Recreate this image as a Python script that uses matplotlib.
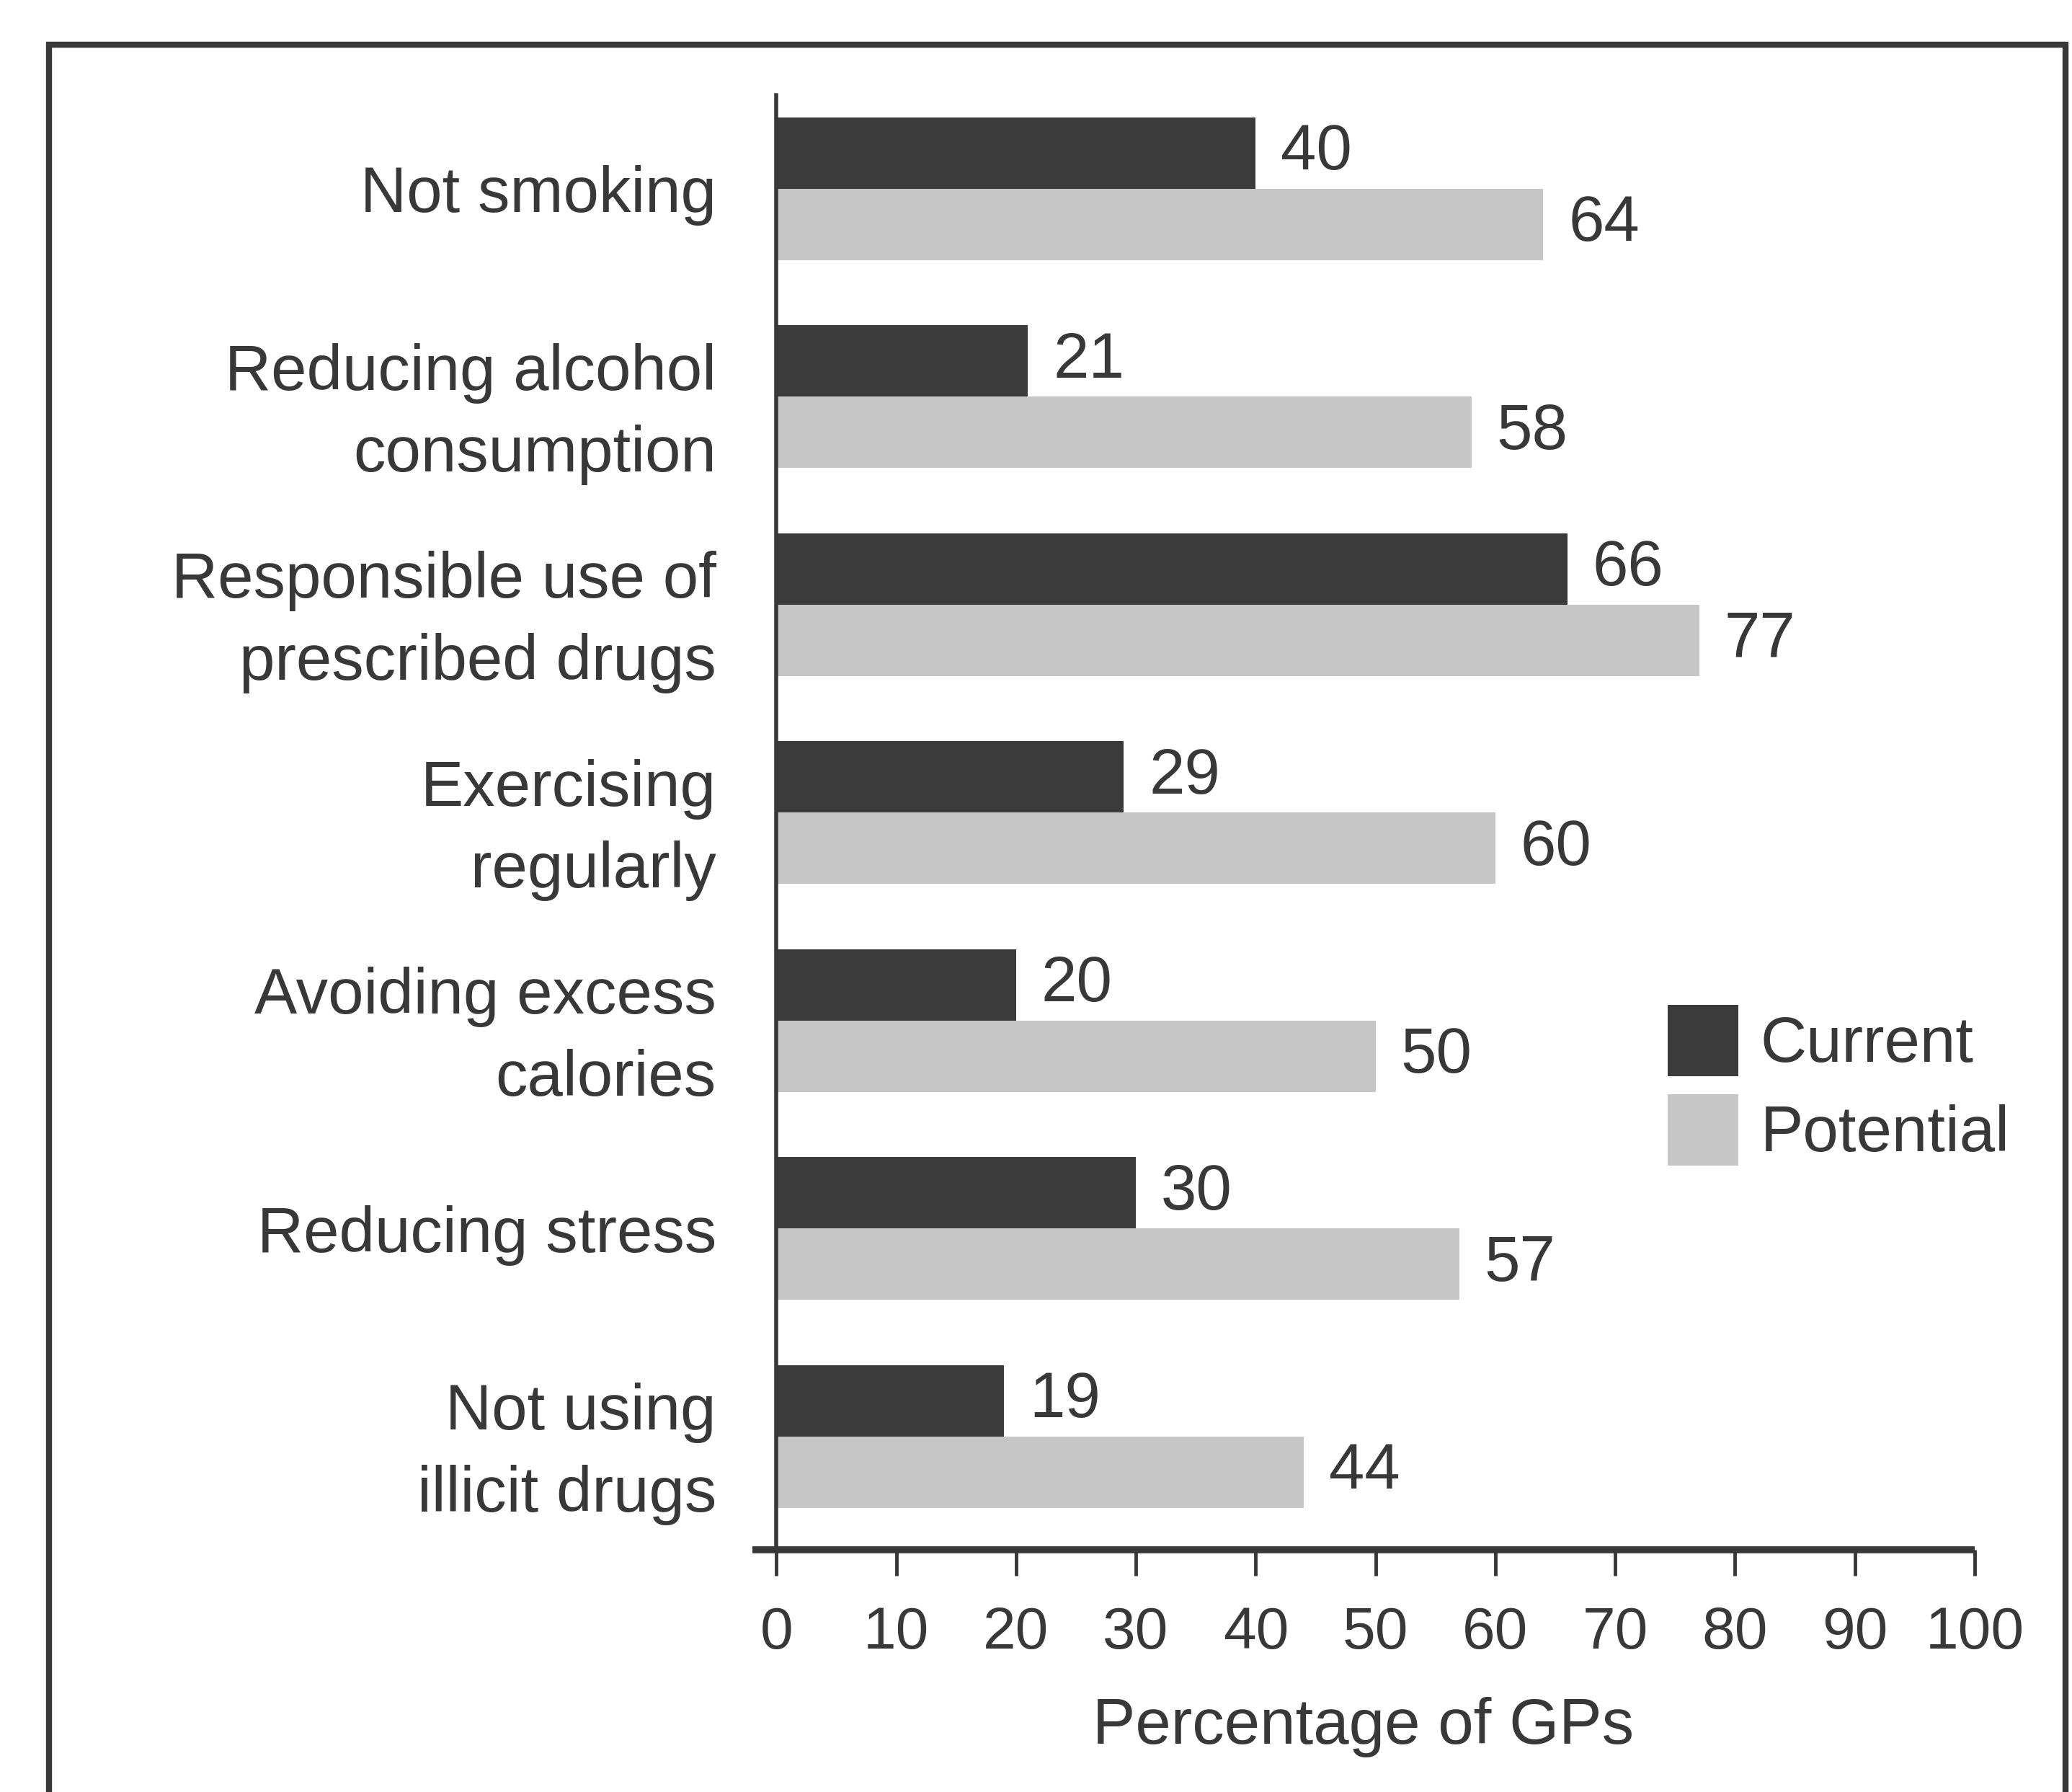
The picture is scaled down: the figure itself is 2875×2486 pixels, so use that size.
import numpy as np
import matplotlib
matplotlib.use("Agg")
import matplotlib.pyplot as plt
from matplotlib import font_manager
from matplotlib.patches import Rectangle

# ---- data -------------------------------------------------------------
categories = [
    "Not smoking",
    "Reducing alcohol\nconsumption",
    "Responsible use of\nprescribed drugs",
    "Exercising\nregularly",
    "Avoiding excess\ncalories",
    "Reducing stress",
    "Not using\nillicit drugs",
]
current = [40, 21, 66, 29, 20, 30, 19]
potential = [64, 58, 77, 60, 50, 57, 44]
series_names = ["Current", "Potential"]
x_ticks = [0, 10, 20, 30, 40, 50, 60, 70, 80, 90, 100]
x_label = "Percentage of GPs"

# ---- style ------------------------------------------------------------
W, H = 2875, 2486
DPI = 100
INK = "#383838"
DARK = "#3b3b3b"
LIGHT = "#c6c6c6"
FONT = "Liberation Sans"
installed = {f.name for f in font_manager.fontManager.ttflist}
NARROW = "Liberation Sans Narrow" if "Liberation Sans Narrow" in installed else FONT
plt.rcParams["font.family"] = [FONT, "DejaVu Sans"]
FS = 64
TICK_FS = FS if NARROW != FONT else 59

fig = plt.figure(figsize=(W / DPI, H / DPI), dpi=DPI, facecolor="white")

# axes placed in pixel terms
ax_left, ax_right = 1044, 2740
ax_top, ax_bottom = 132, 2150
ax = fig.add_axes([ax_left / W, 1 - ax_bottom / H,
                   (ax_right - ax_left) / W, (ax_bottom - ax_top) / H])
ax.set_facecolor("none")

y = np.arange(len(categories))
h = 0.343
bars_cur = ax.barh(y - h / 2, current, height=h, color=DARK, edgecolor="none",
                   label=series_names[0])
bars_pot = ax.barh(y + h / 2, potential, height=h, color=LIGHT, edgecolor="none",
                   label=series_names[1])

# value labels beside each bar
for vals, offs in ((current, -h / 2), (potential, h / 2)):
    for yi, v in zip(y, vals):
        ax.annotate(str(v), xy=(v, yi + offs), xytext=(25, 0),
                    textcoords="offset points", ha="left", va="center",
                    fontsize=FS, color=INK)

ax.set_xlim(-2, 100)
ax.set_ylim(6.545, -0.45)

# axes lines
for s in ("top", "right"):
    ax.spines[s].set_visible(False)
ax.spines["left"].set_position(("data", 0))
ax.spines["left"].set_linewidth(4)
ax.spines["left"].set_color(INK)
ax.spines["bottom"].set_linewidth(7)
ax.spines["bottom"].set_color(INK)
ax.spines["bottom"].set_capstyle("butt")

ax.set_xticks(x_ticks)
ax.set_xticklabels([str(t) for t in x_ticks], fontsize=TICK_FS, color=INK,
                   family=[NARROW, "DejaVu Sans"])
ax.tick_params(axis="x", direction="out", length=26, width=3.5, color=INK, pad=30)

ax.set_yticks(y)
ax.set_yticklabels(categories, fontsize=FS, color=INK, linespacing=1.45)
ax.tick_params(axis="y", length=0, pad=60)

ax.set_xlabel(x_label, fontsize=FS, color=INK, labelpad=36)

# legend
leg = ax.legend(handles=[bars_cur, bars_pot], labels=series_names,
                loc="upper left", bbox_to_anchor=(2314 / W, 1 - 1394 / H),
                bbox_transform=fig.transFigure, frameon=False, fontsize=FS,
                handlelength=1.1, handleheight=1.34, handletextpad=0.35,
                labelspacing=0.28, borderpad=0, borderaxespad=0)
for t in leg.get_texts():
    t.set_color(INK)

# outer frame of the figure panel
fig.add_artist(Rectangle((68 / W, -0.1), (2866 - 68) / W, 1.1 - 62 / H,
                         transform=fig.transFigure, fill=False,
                         linewidth=6, edgecolor=INK, clip_on=False))

fig.savefig("out.png", dpi=DPI, facecolor="white")
